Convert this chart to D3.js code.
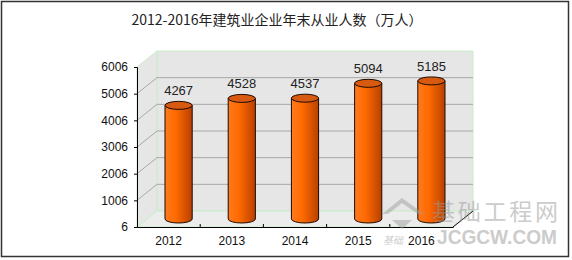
<!DOCTYPE html>
<html>
<head>
<meta charset="utf-8">
<script src="https://cdn.jsdelivr.net/npm/d3@7"></script>
<style>
  html, body { margin: 0; padding: 0; background: #fff; }
  svg { display: block; }
</style>
</head>
<body>
<div id="chart"></div>
<script>
const years = ["2012", "2013", "2014", "2015", "2016"];
const workers = [4267, 4528, 4537, 5094, 5185];
const yTicks = [6, 1006, 2006, 3006, 4006, 5006, 6006];
const title = "2012-2016年建筑业企业年末从业人数（万人）";

const width = 572, height = 260;
const svg = d3.select("#chart").append("svg")
  .attr("width", width)
  .attr("height", height);

// outer frame
svg.append("rect")
  .attr("x", 1.5).attr("y", 1.5)
  .attr("width", 567).attr("height", 255)
  .attr("fill", "#fff")
  .attr("stroke", "#333")
  .attr("stroke-width", 1.5);

svg.append("text")
  .attr("x", 277).attr("y", 25)
  .attr("text-anchor", "middle")
  .style("font-family", "'Noto Sans CJK SC', sans-serif")
  .style("font-size", "14px")
  .attr("fill", "#222")
  .text(title);

// front plane of the 3d box
const plotL = 137, plotR = 453, plotB = 227, plotT = 67;
const depthX = 20, depthY = -16;

const x = d3.scaleBand().domain(years).range([plotL, plotR]);
const y = d3.scaleLinear().domain([6, 6006]).range([plotB, plotT]);

const defs = svg.append("defs");
const grad = defs.append("linearGradient").attr("id", "cyl");
grad.append("stop").attr("offset", "0%").attr("stop-color", "#ff7a1f");
grad.append("stop").attr("offset", "40%").attr("stop-color", "#ff6a00");
grad.append("stop").attr("offset", "100%").attr("stop-color", "#b84000");

// walls: back, left, floor
const wallFill = "#e6e6e6", wallEdge = "#c8eec8";
svg.append("path")
  .attr("d", `M${plotL + depthX},${y(6006) + depthY}H${plotR + depthX}V${plotB + depthY}H${plotL + depthX}Z`)
  .attr("fill", wallFill).attr("stroke", wallEdge);
svg.append("path")
  .attr("d", `M${plotL},${y(6006)}L${plotL + depthX},${y(6006) + depthY}V${plotB + depthY}L${plotL},${plotB}Z`)
  .attr("fill", wallFill).attr("stroke", wallEdge);
svg.append("path")
  .attr("d", `M${plotL},${plotB}L${plotL + depthX},${plotB + depthY}H${plotR + depthX}L${plotR},${plotB}Z`)
  .attr("fill", "#ececec").attr("stroke", wallEdge);

// gridlines on back and left wall
const grid = svg.append("g").attr("stroke", "#a8a8a8").attr("fill", "none");
yTicks.slice(1, -1).forEach(t => {
  grid.append("path")
    .attr("d", `M${plotL},${y(t)}L${plotL + depthX},${y(t) + depthY}H${plotR + depthX}`);
});

// axes
const yAxis = d3.axisLeft(y).tickValues(yTicks).tickSize(3).tickFormat(d3.format("d"));
const gy = svg.append("g").attr("transform", `translate(${plotL},0)`).call(yAxis);
gy.select(".domain").attr("stroke", "#000");
gy.selectAll("text")
  .attr("x", -9)
  .style("font-family", "'Liberation Sans', Arial, sans-serif")
  .style("font-size", "12px")
  .attr("fill", "#111");

const xAxis = d3.axisBottom(x).tickSize(0).tickPadding(9);
const gx = svg.append("g").attr("transform", `translate(0,${plotB})`).call(xAxis);
gx.select(".domain").attr("stroke", "#000");
gx.selectAll("text")
  .style("font-family", "'Liberation Sans', Arial, sans-serif")
  .style("font-size", "12px")
  .attr("fill", "#111");
years.slice(1).forEach(yr => {
  gx.append("line").attr("x1", x(yr)).attr("x2", x(yr)).attr("y1", 0).attr("y2", -3).attr("stroke", "#000");
});
// floor edge on the right
svg.append("path")
  .attr("d", `M${plotR},${plotB}L${plotR + depthX},${plotB + depthY}`)
  .attr("stroke", "#000").attr("fill", "none");

// cylinders
const barW = x.bandwidth() * 0.43;
const rx = barW / 2, ry = 4;
const bars = svg.selectAll(".bar").data(years.map((d, i) => ({ year: d, value: workers[i] })))
  .enter().append("g").attr("class", "bar")
  .attr("transform", d => `translate(${x(d.year) + x.bandwidth() / 2 + depthX / 2},${depthY / 2})`);

bars.append("path")
  .attr("d", d => {
    const t = y(d.value), b = y(6);
    return `M${-rx},${t}V${b}A${rx},${ry} 0 0 0 ${rx},${b}V${t}Z`;
  })
  .attr("fill", "url(#cyl)")
  .attr("stroke", "#1a0a00")
  .attr("stroke-width", 1);

bars.append("ellipse")
  .attr("cx", 0).attr("cy", d => y(d.value))
  .attr("rx", rx).attr("ry", ry)
  .attr("fill", "#d85a10")
  .attr("stroke", "#1a0a00");

bars.append("text")
  .attr("x", 0).attr("y", d => y(d.value) - 10)
  .attr("text-anchor", "middle")
  .style("font-family", "'Liberation Sans', Arial, sans-serif")
  .style("font-size", "13px")
  .attr("fill", "#222")
  .text(d => d.value);

// watermark
const wm = svg.append("g").attr("opacity", 0.5).attr("fill", "#9a9a9a");
wm.append("path")
  .attr("d", "M382,214L402,198L424,214L418,214L402,203L388,214Z M392,220L412,220L402,229Z")
  .attr("fill", "#a0a0a0");
wm.append("text")
  .attr("x", 432).attr("y", 220)
  .attr("textLength", 126)
  .style("font-family", "'Noto Sans CJK SC', sans-serif")
  .style("font-size", "23px")
  .text("基础工程网");
wm.append("text")
  .attr("x", 437).attr("y", 244)
  .attr("textLength", 120)
  .attr("lengthAdjust", "spacingAndGlyphs")
  .style("font-family", "'Liberation Sans', Arial, sans-serif")
  .style("font-size", "20px")
  .style("font-weight", "bold")
  .text("JCGCW.COM");
wm.append("text")
  .attr("x", 383).attr("y", 244)
  .style("font-family", "'Noto Sans CJK SC', sans-serif")
  .style("font-size", "10px")
  .style("font-style", "italic")
  .text("基础");
</script>
</body>
</html>
